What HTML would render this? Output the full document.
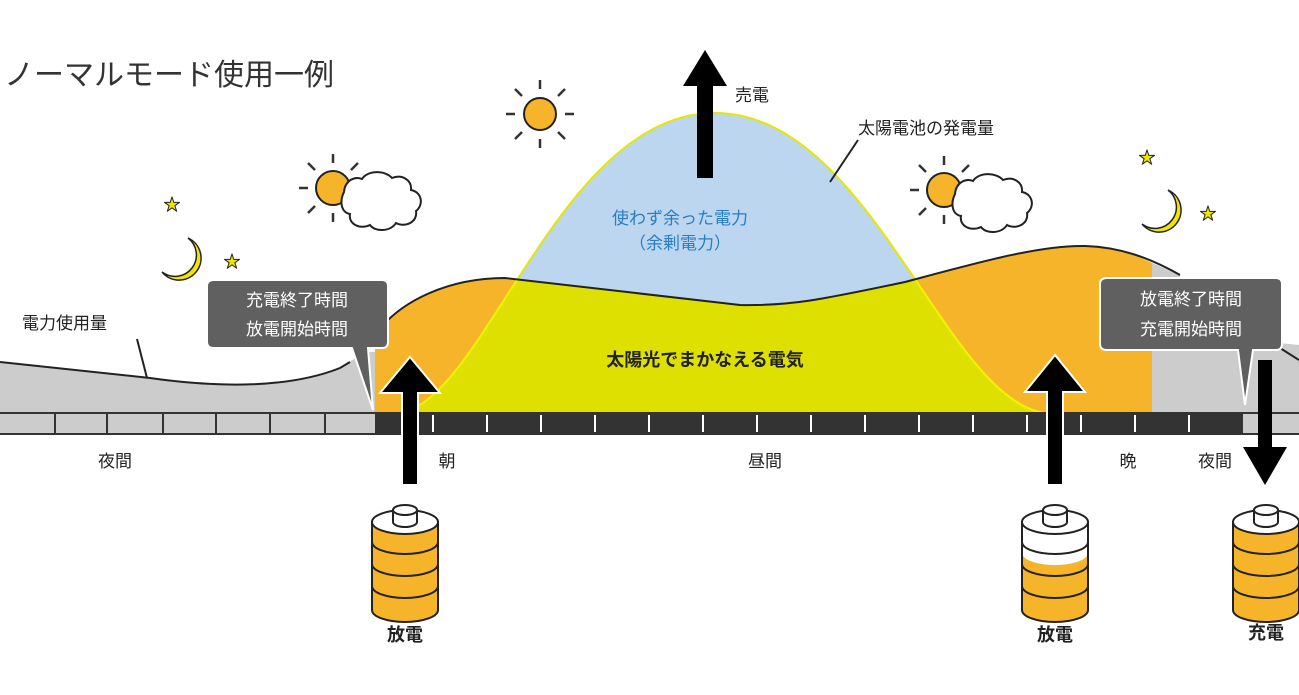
<!DOCTYPE html>
<html><head><meta charset="utf-8"><style>
html,body{margin:0;padding:0;background:#fff;}
svg{display:block;}
text{font-family:"Liberation Sans","Noto Sans CJK JP",sans-serif;}
</style></head><body>
<svg width="1299" height="695" viewBox="0 0 1299 695" xmlns="http://www.w3.org/2000/svg">
<defs>
<clipPath id="usage"><path d="M375,413 L375,335 C400,300 450,278 505,278 L740,305 C790,306 820,300 905,282 C980,262 1040,245 1085,246 C1120,247 1150,258 1180,275 L1180,413 Z"/></clipPath>
<g id="bat">
<path d="M-33,0 L-33,88 A33,12 0 0 0 33,88 L33,0 Z" fill="#f6b42a" stroke="#222" stroke-width="2"/>
<ellipse cx="0" cy="0" rx="33" ry="12" fill="#fff" stroke="#222" stroke-width="2"/>
<path d="M-33,20 A33,12 0 0 0 33,20 M-33,42 A33,12 0 0 0 33,42 M-33,64 A33,12 0 0 0 33,64" fill="none" stroke="#222" stroke-width="2"/>
<path d="M-12,-12 L-12,0 A12,5 0 0 0 12,0 L12,-12" fill="#fff" stroke="#222" stroke-width="2"/>
<ellipse cx="0" cy="-12" rx="12" ry="5" fill="#fff" stroke="#222" stroke-width="2"/>
</g>
<g id="rays" stroke="#333" stroke-width="2.5">
<line x1="0" y1="-25" x2="0" y2="-34"/><line x1="0" y1="25" x2="0" y2="34"/>
<line x1="-25" y1="0" x2="-34" y2="0"/><line x1="25" y1="0" x2="34" y2="0"/>
<line x1="18" y1="-18" x2="25" y2="-25"/><line x1="-18" y1="-18" x2="-25" y2="-25"/>
<line x1="18" y1="18" x2="25" y2="25"/><line x1="-18" y1="18" x2="-25" y2="25"/>
</g>
</defs>

<text x="4" y="85" font-size="30" fill="#333">ノーマルモード使用一例</text>

<!-- grey usage areas -->
<path d="M0,362 L150,378 C220,388 290,388 340,368 L365,352 L375,352 L375,413 L0,413 Z" fill="#cccccc"/>
<path d="M0,362 L150,378 C220,388 290,388 340,368 L350,362" fill="none" stroke="#222" stroke-width="2"/>
<path d="M1150,262 L1180,275 L1180,413 L1150,413 Z" fill="#cccccc"/>
<path d="M1150,330 L1299,345 L1299,413 L1150,413 Z" fill="#cccccc"/>
<path d="M1280,348 L1299,360" stroke="#222" stroke-width="2"/>

<!-- orange -->
<path d="M375,413 L375,335 C400,300 450,278 505,278 L740,305 C790,306 820,300 905,282 C980,262 1040,245 1085,246 C1110,247 1135,254 1152,263 L1152,413 Z" fill="#f6b42a"/>
<!-- solar bell -->
<path d="M400,413 C485,400 560,113 715,113 C870,113 945,400 1045,413 Z" fill="#bcd6ef" stroke="#e6e600" stroke-width="2"/>
<path d="M400,413 C485,400 560,113 715,113 C870,113 945,400 1045,413 Z" fill="#dde000" clip-path="url(#usage)" stroke="#f2f200" stroke-width="2"/>
<path d="M375,335 C400,300 450,278 505,278 L740,305 C790,306 820,300 905,282 C980,262 1040,245 1085,246 C1120,247 1150,258 1180,275" fill="none" stroke="#222" stroke-width="2"/>

<!-- time bar -->
<rect x="0" y="413" width="1299" height="21" fill="#cccccc"/>
<rect x="375" y="413" width="868" height="21" fill="#333"/>
<line x1="0" y1="413" x2="1299" y2="413" stroke="#333" stroke-width="2"/>
<line x1="0" y1="434" x2="1299" y2="434" stroke="#333" stroke-width="2"/>
<g stroke="#333" stroke-width="2">
<line x1="55" y1="413" x2="55" y2="434"/><line x1="107" y1="413" x2="107" y2="434"/><line x1="163" y1="413" x2="163" y2="434"/><line x1="216" y1="413" x2="216" y2="434"/><line x1="270" y1="413" x2="270" y2="434"/><line x1="325" y1="413" x2="325" y2="434"/>
</g>
<g stroke="#fff" stroke-width="2">
<line x1="433" y1="415" x2="433" y2="432"/><line x1="487" y1="415" x2="487" y2="432"/><line x1="541" y1="415" x2="541" y2="432"/><line x1="595" y1="415" x2="595" y2="432"/><line x1="649" y1="415" x2="649" y2="432"/><line x1="703" y1="415" x2="703" y2="432"/><line x1="757" y1="415" x2="757" y2="432"/><line x1="811" y1="415" x2="811" y2="432"/><line x1="865" y1="415" x2="865" y2="432"/><line x1="919" y1="415" x2="919" y2="432"/><line x1="973" y1="415" x2="973" y2="432"/><line x1="1027" y1="415" x2="1027" y2="432"/><line x1="1081" y1="415" x2="1081" y2="432"/><line x1="1135" y1="415" x2="1135" y2="432"/><line x1="1189" y1="415" x2="1189" y2="432"/>
</g>

<!-- callouts -->
<path d="M214,280 L382,280 Q388,280 388,286 L388,342 Q388,348 382,348 L368,348 L373,410 L352,348 L214,348 Q207,348 207,342 L207,286 Q207,280 214,280 Z" fill="#606060" stroke="#fff" stroke-width="2"/>
<text x="297" y="306" font-size="17" fill="#fff" text-anchor="middle">充電終了時間</text>
<text x="297" y="335" font-size="17" fill="#fff" text-anchor="middle">放電開始時間</text>
<path d="M1107,278 L1276,278 Q1282,278 1282,284 L1282,344 Q1282,350 1276,350 L1253,350 L1245,405 L1238,350 L1107,350 Q1100,350 1100,344 L1100,284 Q1100,278 1107,278 Z" fill="#606060" stroke="#fff" stroke-width="2"/>
<text x="1191" y="305" font-size="17" fill="#fff" text-anchor="middle">放電終了時間</text>
<text x="1191" y="335" font-size="17" fill="#fff" text-anchor="middle">充電開始時間</text>

<!-- arrows -->
<path d="M402,485 L402,393 L380,393 L410,357 L440,393 L418,393 L418,485 Z" fill="#000" stroke="#fff" stroke-width="2"/>
<path d="M1047,485 L1047,392 L1025,392 L1055,355 L1085,392 L1063,392 L1063,485 Z" fill="#000" stroke="#fff" stroke-width="2"/>
<path d="M697,178 L697,86 L683,86 L705,50 L727,86 L713,86 L713,178 Z" fill="#000"/>
<path d="M1258,360 L1272,360 L1272,447 L1287,447 L1265,485 L1243,447 L1258,447 Z" fill="#000"/>

<!-- batteries -->
<use href="#bat" transform="translate(405,522)"/>
<g transform="translate(1055,522)">
<path d="M-33,0 L-33,88 A33,12 0 0 0 33,88 L33,0 Z" fill="#f6b42a" stroke="#222" stroke-width="2"/>
<path d="M-32,0 L-32,34 A33,12 0 0 0 32,34 L32,0 Z" fill="#fff"/>
<ellipse cx="0" cy="0" rx="33" ry="12" fill="#fff" stroke="#222" stroke-width="2"/>
<path d="M-33,20 A33,12 0 0 0 33,20 M-33,42 A33,12 0 0 0 33,42 M-33,64 A33,12 0 0 0 33,64 M-33,0 L-33,88 M33,0 L33,88" fill="none" stroke="#222" stroke-width="2"/>
<path d="M-12,-12 L-12,0 A12,5 0 0 0 12,0 L12,-12" fill="#fff" stroke="#222" stroke-width="2"/>
<ellipse cx="0" cy="-12" rx="12" ry="5" fill="#fff" stroke="#222" stroke-width="2"/>
</g>
<use href="#bat" transform="translate(1266,522)"/>
<text x="405" y="641" font-size="18" font-weight="bold" fill="#222" text-anchor="middle">放電</text>
<text x="1055" y="641" font-size="18" font-weight="bold" fill="#222" text-anchor="middle">放電</text>
<text x="1266" y="639" font-size="18" font-weight="bold" fill="#222" text-anchor="middle">充電</text>

<!-- suns -->
<use href="#rays" transform="translate(540,114)"/>
<circle cx="540" cy="114" r="16" fill="#f6b42a" stroke="#222" stroke-width="2"/>
<use href="#rays" transform="translate(333,188)"/>
<circle cx="333" cy="188" r="17" fill="#f6b42a" stroke="#222" stroke-width="2"/>
<path d="M344,192 C345,180 355,176 362,179 C368,170 385,170 392,178 C402,174 412,180 411,190 C422,192 424,205 416,211 C418,222 405,228 396,223 C390,232 375,232 370,225 C360,230 348,224 350,214 C340,212 340,200 344,192 Z" fill="#fff" stroke="#222" stroke-width="2"/>
<use href="#rays" transform="translate(944,190)"/>
<circle cx="944" cy="190" r="17" fill="#f6b42a" stroke="#222" stroke-width="2"/>
<path d="M955,194 C956,182 966,178 973,181 C979,172 996,172 1003,180 C1013,176 1023,182 1022,192 C1033,194 1035,207 1027,213 C1029,224 1016,230 1007,225 C1001,234 986,234 981,227 C971,232 959,226 961,216 C951,214 951,202 955,194 Z" fill="#fff" stroke="#222" stroke-width="2"/>

<!-- moons & stars -->
<path d="M188,238 A22,22 0 1 1 162,272 A17,17 0 1 0 188,238 Z" fill="#f2e600" stroke="#222" stroke-width="1.5"/>
<path d="M1168,190 A22,22 0 1 1 1142,224 A17,17 0 1 0 1168,190 Z" fill="#f2e600" stroke="#222" stroke-width="1.5"/>
<g fill="#f2e600" stroke="#222" stroke-width="1" font-size="16">
<text x="164" y="210">★</text><text x="224" y="267">★</text><text x="1139" y="163">★</text><text x="1200" y="219">★</text>
</g>

<!-- labels -->
<text x="735" y="101" font-size="17" fill="#222">売電</text>
<text x="858" y="134" font-size="17" fill="#222">太陽電池の発電量</text>
<line x1="858" y1="140" x2="830" y2="182" stroke="#222" stroke-width="2"/>
<text x="680" y="224" font-size="17" fill="#2a7ec0" text-anchor="middle">使わず余った電力</text>
<text x="680" y="249" font-size="17" fill="#2a7ec0" text-anchor="middle">（余剰電力）</text>
<text x="705" y="366" font-size="18" font-weight="bold" fill="#222" text-anchor="middle">太陽光でまかなえる電気</text>
<text x="22" y="329" font-size="17" fill="#222">電力使用量</text>
<line x1="137" y1="339" x2="147" y2="378" stroke="#222" stroke-width="2"/>
<text x="115" y="467" font-size="17" fill="#222" text-anchor="middle">夜間</text>
<text x="447" y="467" font-size="17" fill="#222" text-anchor="middle">朝</text>
<text x="765" y="467" font-size="17" fill="#222" text-anchor="middle">昼間</text>
<text x="1128" y="467" font-size="17" fill="#222" text-anchor="middle">晩</text>
<text x="1215" y="467" font-size="17" fill="#222" text-anchor="middle">夜間</text>
</svg>
</body></html>
